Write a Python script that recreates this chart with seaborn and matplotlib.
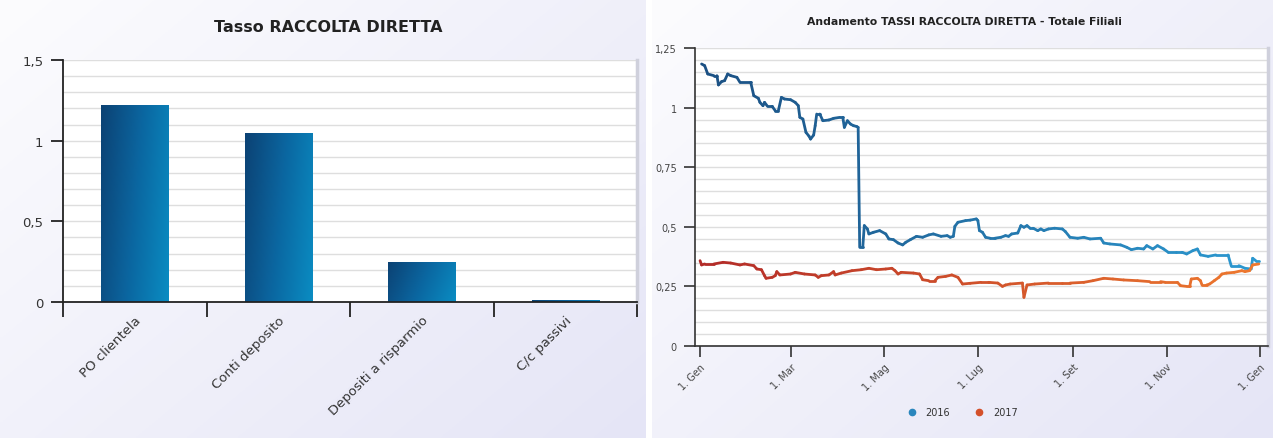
import numpy as np
import pandas as pd
import matplotlib
matplotlib.use("Agg")
import matplotlib.pyplot as plt
import matplotlib.dates as mdates
from matplotlib.collections import LineCollection
from matplotlib.colors import LinearSegmentedColormap
from matplotlib.lines import Line2D
from matplotlib.ticker import FixedLocator, FuncFormatter, MultipleLocator
import seaborn as sns

# ---- bar chart data ----
categories = ["PO clientela", "Conti deposito", "Depositi a risparmio", "C/c passivi"]
tassi = [1.22, 1.05, 0.246, 0.01]

# ---- daily trend data (day of year offset, rate) ----
days_2016 = [1, 3, 5, 9, 11, 12, 14, 16, 18, 20, 24, 26, 33, 35, 38, 39, 41, 42, 44, 47,
             49, 51, 53, 55, 59, 62, 64, 65, 67, 69, 71, 72, 74, 75, 76, 78, 80, 84, 87, 91,
             93, 94, 96, 98, 100, 102, 103, 104, 106, 107, 109, 110, 113, 117, 121, 123, 126,
             129, 132, 134, 137, 141, 145, 149, 152, 157, 161, 163, 165, 166, 168, 173, 176,
             180, 181, 182, 184, 186, 189, 192, 196, 199, 201, 203, 207, 209, 211, 213, 215,
             217, 220, 222, 224, 227, 231, 236, 238, 241, 246, 250, 254, 261, 263, 267, 274,
             278, 281, 285, 289, 291, 295, 298, 302, 305, 310, 314, 317, 321, 324, 326, 331,
             336, 344, 346, 351, 355, 359, 360, 362, 364]
tasso_2016 = [1.183, 1.176, 1.141, 1.134, 1.134, 1.095, 1.109, 1.113, 1.141, 1.134, 1.127,
              1.106, 1.106, 1.050, 1.039, 1.022, 1.008, 1.022, 1.005, 1.005, 0.987, 0.987,
              1.043, 1.036, 1.033, 1.022, 1.008, 0.959, 0.952, 0.896, 0.880, 0.868, 0.885,
              0.924, 0.973, 0.973, 0.945, 0.948, 0.955, 0.959, 0.959, 0.917, 0.945, 0.931,
              0.924, 0.921, 0.917, 0.414, 0.414, 0.505, 0.491, 0.470, 0.477, 0.484, 0.470,
              0.449, 0.446, 0.432, 0.424, 0.435, 0.446, 0.460, 0.456, 0.466, 0.470, 0.460,
              0.463, 0.456, 0.460, 0.502, 0.519, 0.526, 0.528, 0.533, 0.526, 0.484, 0.477,
              0.456, 0.452, 0.452, 0.456, 0.463, 0.460, 0.470, 0.474, 0.505, 0.498, 0.505,
              0.494, 0.494, 0.484, 0.491, 0.484, 0.491, 0.494, 0.491, 0.480, 0.456, 0.452,
              0.456, 0.449, 0.452, 0.432, 0.428, 0.424, 0.414, 0.404, 0.410, 0.407, 0.421,
              0.407, 0.421, 0.407, 0.393, 0.393, 0.393, 0.386, 0.400, 0.407, 0.382, 0.376,
              0.382, 0.382, 0.337, 0.337, 0.326, 0.323, 0.368, 0.358, 0.358]

days_2017 = [0, 1, 3, 9, 15, 20, 26, 29, 35, 37, 40, 42, 43, 47, 49, 50, 52, 59, 62, 68,
             75, 77, 79, 84, 87, 88, 92, 99, 105, 110, 115, 121, 125, 127, 129, 131, 139, 143,
             145, 149, 153, 155, 160, 164, 168, 171, 176, 183, 188, 194, 197, 199, 202, 210,
             211, 213, 218, 227, 236, 241, 250, 256, 263, 269, 276, 285, 293, 300, 303, 311,
             313, 317, 319, 320, 324, 326, 327, 330, 332, 335, 338, 340, 343, 348, 353, 355,
             358, 360, 364]
tasso_2017 = [0.358, 0.340, 0.344, 0.344, 0.351, 0.348, 0.340, 0.344, 0.337, 0.323, 0.320,
              0.295, 0.284, 0.288, 0.295, 0.312, 0.298, 0.302, 0.309, 0.302, 0.298, 0.288,
              0.295, 0.298, 0.312, 0.298, 0.306, 0.316, 0.320, 0.326, 0.320, 0.323, 0.326,
              0.316, 0.302, 0.309, 0.306, 0.302, 0.278, 0.274, 0.274, 0.288, 0.292, 0.298,
              0.288, 0.260, 0.263, 0.267, 0.267, 0.264, 0.250, 0.256, 0.260, 0.264, 0.204,
              0.256, 0.260, 0.264, 0.264, 0.264, 0.267, 0.274, 0.284, 0.281, 0.277, 0.274,
              0.270, 0.270, 0.267, 0.267, 0.253, 0.250, 0.250, 0.281, 0.284, 0.274, 0.256,
              0.256, 0.260, 0.274, 0.288, 0.302, 0.306, 0.309, 0.316, 0.312, 0.316, 0.340,
              0.344]

series_names = ["2016", "2017"]
month_labels = ["1. Gen", "1. Mar", "1. Mag", "1. Lug", "1. Set", "1. Nov", "1. Gen"]
month_ticks = ["2017-01-01", "2017-03-01", "2017-05-01", "2017-07-01",
               "2017-09-01", "2017-11-01", "2018-01-01"]

sns.set_theme(style="white")
plt.rcParams["font.family"] = ["DejaVu Sans"]

W, H = 1273, 439
fig = plt.figure(figsize=(W / 100, H / 100), dpi=100)
fig.patch.set_facecolor("white")


def panel_background(x0, x1):
    """Soft white-to-lavender gradient behind a chart panel."""
    bg = fig.add_axes([x0 / W, 0, (x1 - x0) / W, 1], zorder=-10)
    yy, xx = np.mgrid[0:1:200j, 0:1:200j]
    t = np.clip(0.55 * xx + 0.45 * yy, 0, 1)
    c0 = np.array([252, 252, 254]) / 255
    c1 = np.array([229, 229, 246]) / 255
    img = c0[None, None, :] * (1 - t[..., None]) + c1[None, None, :] * t[..., None]
    bg.imshow(img, extent=[0, 1, 0, 1], aspect="auto", origin="upper")
    bg.set_axis_off()


panel_background(0, 646)
panel_background(652, W)

comma = FuncFormatter(lambda v, p: ("%g" % round(v, 2)).replace(".", ","))
tick_col = "#333333"

# ------------------- left: bar chart -------------------
ax1 = fig.add_axes([63 / W, 1 - 303 / H, 574 / W, 242 / H])
bar_df = pd.DataFrame({"categoria": categories, "tasso": tassi})
sns.barplot(data=bar_df, x="categoria", y="tasso", ax=ax1, width=0.47,
            color="#0a6ea6", saturation=1)
ax1.set_facecolor("white")
ax1.set_xlim(-0.5, 3.5)
ax1.set_ylim(0, 1.5)

bar_cmap = LinearSegmentedColormap.from_list("bar", ["#0b4274", "#0b66a0", "#0a8cc2"])
gx, gy = np.meshgrid(np.linspace(0, 1, 64), np.linspace(0, 1, 64))
grad = 0.8 * gx + 0.2 * gy
for p in ax1.patches:
    x, w, h = p.get_x(), p.get_width(), p.get_height()
    im = ax1.imshow(grad, cmap=bar_cmap, extent=[x, x + w, 0, h], aspect="auto",
                    origin="upper", zorder=2, vmin=0, vmax=1)
    im.set_clip_path(p)
    p.set_facecolor("none")
    p.set_edgecolor("none")
ax1.set_xlim(-0.5, 3.5)
ax1.set_ylim(0, 1.5)

ax1.yaxis.set_major_locator(MultipleLocator(0.5))
ax1.yaxis.set_minor_locator(MultipleLocator(0.1))
ax1.yaxis.set_major_formatter(comma)
ax1.grid(True, which="both", axis="y", color="#dedede", linewidth=1)
ax1.set_axisbelow(True)
ax1.set_xticks([-0.5, 0.5, 1.5, 2.5, 3.5])
ax1.set_xticklabels([])
ax1.xaxis.set_minor_locator(FixedLocator([0, 1, 2, 3]))
ax1.set_xticklabels(categories, minor=True, rotation=45, ha="right",
                    rotation_mode="anchor", fontsize=9.5, color=tick_col)
ax1.tick_params(axis="x", which="major", direction="out", length=11, width=1.3,
                color="#222222", bottom=True)
ax1.tick_params(axis="x", which="minor", length=0, pad=8, bottom=True)
ax1.tick_params(axis="y", which="major", direction="out", length=9, width=1.3,
                color="#222222", labelsize=9.5, labelcolor=tick_col, left=True, pad=5)
ax1.tick_params(axis="y", which="minor", length=0)
ax1.set_xlabel("")
ax1.set_ylabel("")
for s in ["left", "bottom"]:
    ax1.spines[s].set_color("#222222")
    ax1.spines[s].set_linewidth(1.3)
ax1.spines["top"].set_visible(False)
ax1.spines["right"].set_color("#cfd0dc")
ax1.spines["right"].set_linewidth(2.5)
fig.text(328 / W, 1 - 27 / H, "Tasso RACCOLTA DIRETTA", ha="center", va="center",
         fontsize=11.5, fontweight="bold", color="#222222")

# ------------------- right: trend lines -------------------
ax2 = fig.add_axes([695 / W, 1 - 347 / H, 573 / W, 298 / H])
base = pd.Timestamp("2017-01-01")
trend_df = pd.concat([
    pd.DataFrame({"data": base + pd.to_timedelta(days_2016, unit="D"),
                  "tasso": tasso_2016, "anno": "2016"}),
    pd.DataFrame({"data": base + pd.to_timedelta(days_2017, unit="D"),
                  "tasso": tasso_2017, "anno": "2017"}),
])
palette = {"2016": "#2a86bd", "2017": "#d4502a"}
sns.lineplot(data=trend_df, x="data", y="tasso", hue="anno", palette=palette,
             ax=ax2, legend=False, linewidth=2, estimator=None)
ax2.set_facecolor("white")

x_lo = mdates.date2num(pd.Timestamp("2016-12-28 17:00"))
x_hi = mdates.date2num(pd.Timestamp("2018-01-06"))
ax2.set_xlim(x_lo, x_hi)
ax2.set_ylim(0, 1.25)

# horizontal colour gradient along each line
line_grads = [("#1b4f82", "#2c9ad2"), ("#b22a28", "#ef7a2e")]
for line, (c0, c1) in zip(list(ax2.lines), line_grads):
    xy = line.get_xydata()
    segs = np.stack([xy[:-1], xy[1:]], axis=1)
    t = ((xy[:-1, 0] + xy[1:, 0]) / 2 - x_lo) / (x_hi - x_lo)
    cm = LinearSegmentedColormap.from_list("g", [c0, c1])
    lc = LineCollection(segs, colors=cm(t), linewidths=2.0, capstyle="round",
                        joinstyle="round", zorder=3)
    ax2.add_collection(lc)
    line.set_visible(False)

ax2.yaxis.set_major_locator(MultipleLocator(0.25))
ax2.yaxis.set_minor_locator(MultipleLocator(0.05))
ax2.yaxis.set_major_formatter(comma)
ax2.grid(True, which="both", axis="y", color="#dedede", linewidth=1)
ax2.grid(False, axis="x")
ax2.set_axisbelow(True)
tick_nums = [mdates.date2num(pd.Timestamp(d)) for d in month_ticks]
ax2.xaxis.set_major_locator(FixedLocator(tick_nums))
ax2.set_xticklabels(month_labels, rotation=45, ha="right", rotation_mode="anchor",
                    fontsize=7, color="#444444")
ax2.tick_params(axis="x", direction="out", length=8, width=1.2, color="#333333",
                bottom=True, pad=3)
ax2.tick_params(axis="y", which="major", direction="out", length=8, width=1.2,
                color="#333333", labelsize=7, labelcolor="#444444", left=True, pad=5)
ax2.tick_params(axis="y", which="minor", length=0)
ax2.set_xlabel("")
ax2.set_ylabel("")
for s in ["left", "bottom"]:
    ax2.spines[s].set_color("#333333")
    ax2.spines[s].set_linewidth(1.2)
ax2.spines["top"].set_visible(False)
ax2.spines["right"].set_color("#cfd0dc")
ax2.spines["right"].set_linewidth(2.5)
fig.text(964 / W, 1 - 22 / H, "Andamento TASSI RACCOLTA DIRETTA - Totale Filiali",
         ha="center", va="center", fontsize=7.8, fontweight="bold", color="#222222")

handles = [Line2D([], [], marker="o", linestyle="none", markersize=4.5,
                  markerfacecolor=palette[n], markeredgecolor=palette[n], label=n)
           for n in series_names]
fig.legend(handles=handles, loc="center", bbox_to_anchor=(960 / W, 1 - 413 / H),
           ncol=2, frameon=False, fontsize=7, handletextpad=0.4, columnspacing=2.0,
           labelcolor="#333333")

fig.savefig("out.png", dpi=100)
